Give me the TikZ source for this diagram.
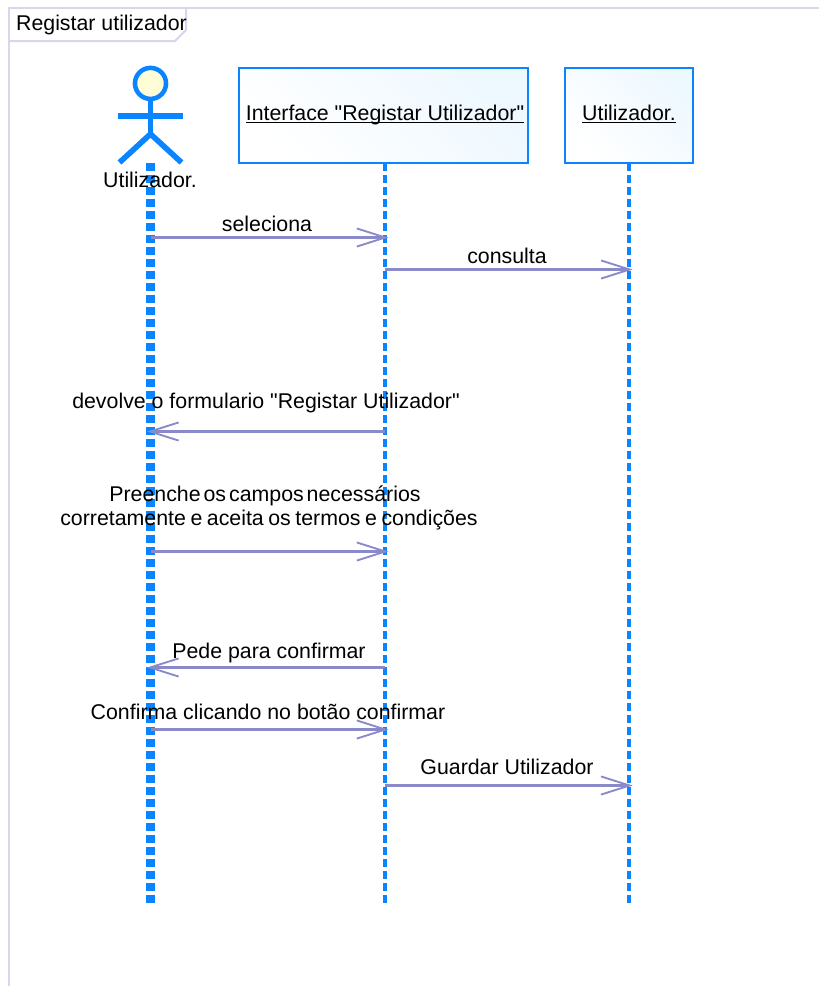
\documentclass[tikz,border=0pt]{standalone}
\usepackage{fontspec}
\newfontfamily\labelfont{Liberation Sans}
\usetikzlibrary{arrows.meta,calc}
\definecolor{lifeblue}{HTML}{0A84FF}
\definecolor{framecol}{HTML}{D6D6EC}
\definecolor{msgcol}{HTML}{8A8ACA}
\definecolor{boxend}{HTML}{EEF8FF}
\definecolor{headfill}{HTML}{FEFDD6}
\pgfdeclarearrow{
  name=openvee,
  setup code={
    \pgfarrowssettipend{0pt}
    \pgfarrowssetlineend{-1pt}
    \pgfarrowssetbackend{-22pt}
    \pgfarrowssetvisualbackend{-22pt}
    \pgfarrowshullpoint{0pt}{0pt}
    \pgfarrowshullpoint{-22pt}{7pt}
    \pgfarrowshullpoint{-22pt}{-7pt}
  },
  drawing code={
    \pgfsetdash{}{0pt}
    \pgfsetlinewidth{1.4pt}
    \pgfsetmiterjoin
    \pgfpathmoveto{\pgfpoint{-22pt}{6.8pt}}
    \pgfpathlineto{\pgfpoint{-0.6pt}{0pt}}
    \pgfpathlineto{\pgfpoint{-22pt}{-6.8pt}}
    \pgfusepathqstroke
  }
}
\tikzset{
  x=0.75pt,y=-0.75pt,
  frameline/.style={draw=framecol,line width=1.5pt},
  objbox/.style={draw=lifeblue,line width=1.5pt,left color=white,right color=boxend,shading angle=135,minimum height=71.5pt,inner sep=0pt,outer sep=0pt,anchor=north west},
  txt/.style={font=\labelfont\fontsize{16pt}{18pt}\selectfont,text=black,inner sep=0pt,align=center,anchor=base},
  lifethin/.style={draw=lifeblue,line width=3pt,dash pattern=on 6pt off 3pt},
  lifethick/.style={draw=lifeblue,line width=6.3pt,dash pattern=on 6.2pt off 2.8pt},
  actorline/.style={draw=lifeblue,line width=4.2pt},
  msg/.style={draw=msgcol,line width=1.6pt,shorten >=-1pt,-{openvee}},
}
\begin{document}
\begin{tikzpicture}
\useasboundingbox (0,0) rectangle (819,986);
\fill[white] (0,0) rectangle (819,986);
% frame
\draw[frameline] (819,8) -- (8.5,8) -- (8.5,986);
\draw[frameline] (8.5,41) -- (175,41) -- (186,30) -- (186,8);
\node[txt] (title) at (101.5,30.5) {Registar utilizador};
% objects
\node[objbox,minimum width=216.75pt] (iface) at (239,67.7) {};
\node[objbox,minimum width=95.8pt] (obj) at (565.2,67.7) {};
\node[txt] (ifacelabel) at (385,120.5) {\underline{\smash{Interface "Registar Utilizador"}}};
\node[txt] (objlabel) at (629,120.5) {\underline{\smash{Utilizador.}}};
% lifeline ends
\coordinate (atop) at (150.6,162.7);
\coordinate (abot) at (150.6,902.5);
\coordinate (itop) at ($(iface.south)+(1.3,0)$);
\coordinate (ibot) at (itop |- abot);
\coordinate (otop) at (obj.south);
\coordinate (obot) at (otop |- abot);
\draw[lifethick] (atop) -- (abot);
\draw[lifethin] (itop) -- (ibot);
\draw[lifethin] (otop) -- (obot);
% actor
\node[circle,draw=lifeblue,fill=headfill,line width=3.4pt,minimum size=23.3pt,inner sep=0pt,outer sep=0pt] (head) at (150.5,83.4) {};
\coordinate (hip) at (150.5,134);
\coordinate (armL) at (118.3,115.7);
\coordinate (armR) at (182.7,115.7);
\coordinate (legL) at (119.5,162.5);
\coordinate (legR) at (181.5,162.5);
\draw[actorline] (head.south) -- (hip);
\draw[actorline] (armL) -- (armR);
\draw[actorline] (legL) -- (hip) -- (legR);
\node[txt] (actorlabel) at (150,187) {Utilizador.};
% messages
\foreach \n/\y in {1/237.5,2/269.5,3/431.5,4/551.5,5/667.5,6/729.5,7/785.5}{
  \coordinate (a\n) at (atop |- 0,\y);
  \coordinate (i\n) at (itop |- 0,\y);
  \coordinate (o\n) at (otop |- 0,\y);
}
\draw[msg] (a1) -- (i1);
\draw[msg] (i2) -- (o2);
\draw[msg] (i3) -- (a3);
\draw[msg] (a4) -- (i4);
\draw[msg] (i5) -- (a5);
\draw[msg] (a6) -- (i6);
\draw[msg] (i7) -- (o7);
% labels
\node[txt] (m1) at (267,231) {seleciona};
\node[txt] (m2) at (507,263) {consulta};
\node[txt] (m3) at (266,408) {devolve o formulario "Registar Utilizador"};
\node[txt] (m4a) at (265,501) {\spaceskip=2.2pt Preenche os campos necessários};
\node[txt] (m4b) at (269,525) {\spaceskip=3.4pt corretamente e aceita os termos e condições};
\node[txt] (m5) at (269,658) {Pede para confirmar};
\node[txt] (m6) at (268,719) {Confirma clicando no botão confirmar};
\node[txt] (m7) at (507,774) {Guardar Utilizador};
\end{tikzpicture}
\end{document}
